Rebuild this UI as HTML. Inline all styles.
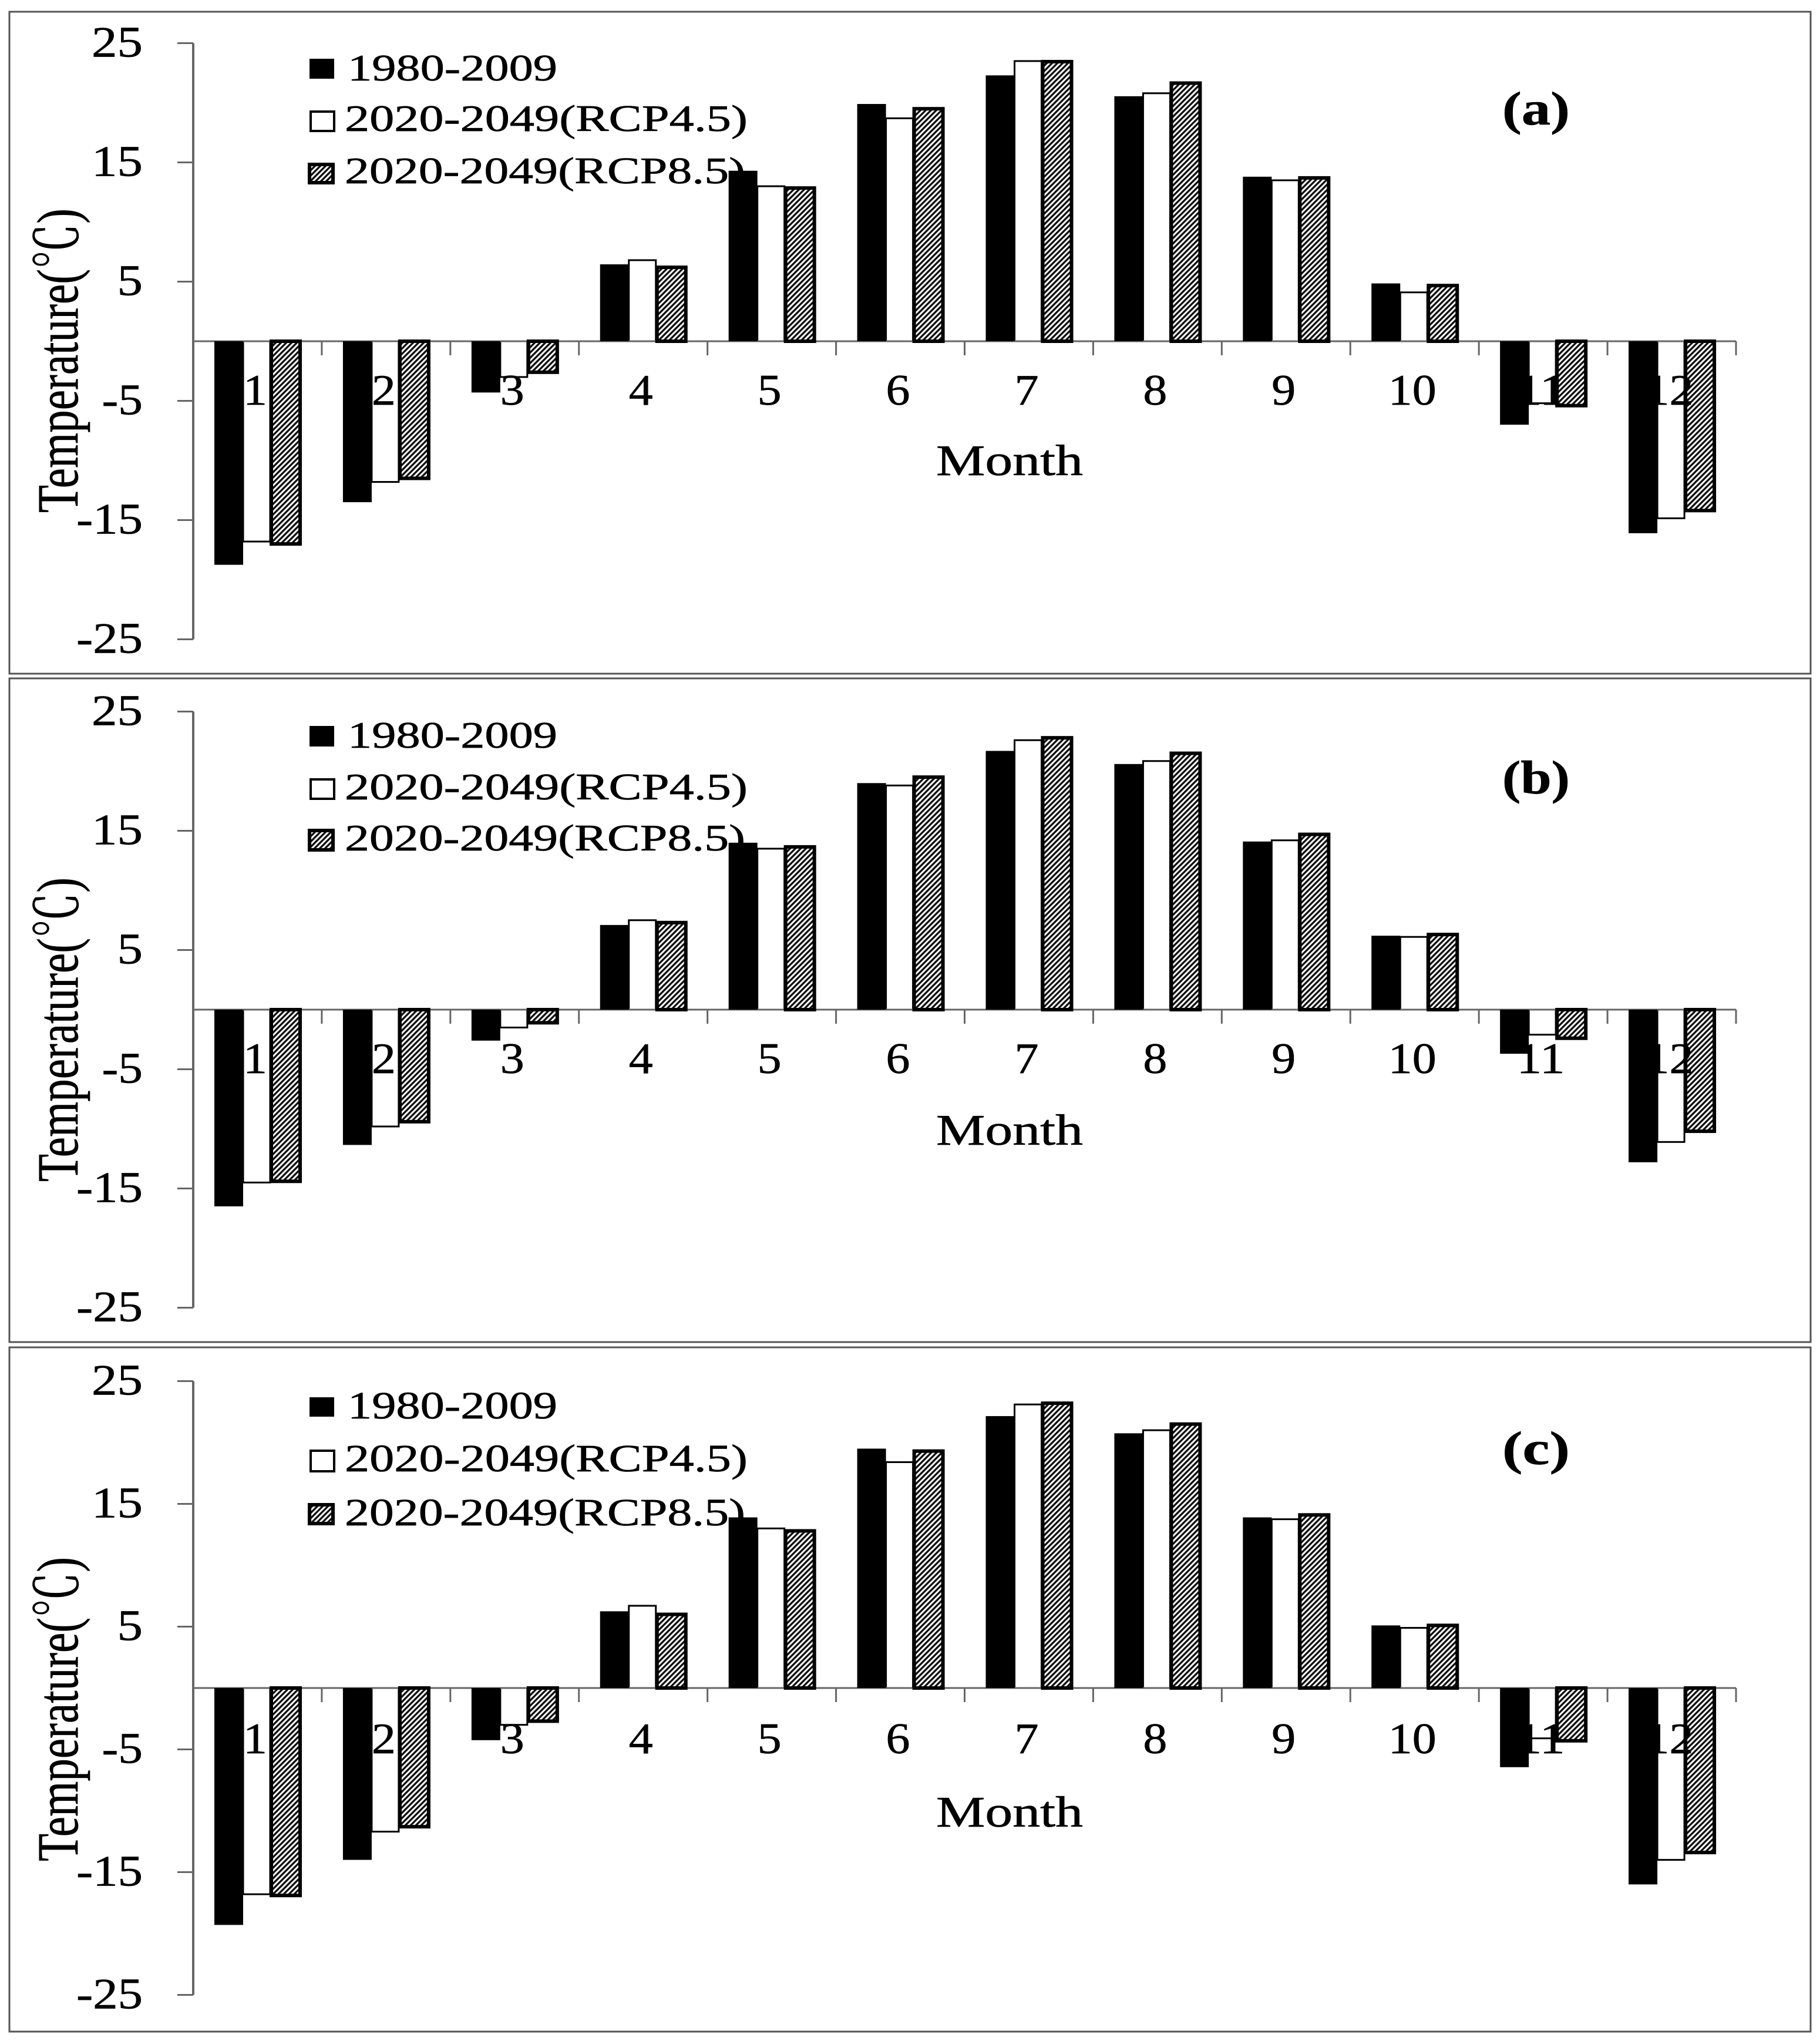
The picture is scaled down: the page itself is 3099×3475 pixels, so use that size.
<!DOCTYPE html>
<html lang="en">
<head>
<meta charset="utf-8">
<title>Monthly temperature panels</title>
<style>
html,body{margin:0;padding:0;background:#fff;}
svg{display:block;}
text{font-family:"Liberation Serif","Noto Serif CJK SC","Noto Sans CJK SC",serif;fill:#000;stroke:#000;stroke-width:0.7;}
</style>
</head>
<body>
<svg id="chart" xmlns="http://www.w3.org/2000/svg" width="3099" height="3475" viewBox="0 0 3099 3475">
  <defs>
    <pattern id="hatch" patternUnits="userSpaceOnUse" width="9" height="9">
      <rect width="9" height="9" fill="#fff"/>
      <path d="M-2 11L11 -2M-2 2L2 -2M7 11L11 7" stroke="#111" stroke-width="3.4"/>
    </pattern>
  </defs>
</svg>
<script>
const months = ["1","2","3","4","5","6","7","8","9","10","11","12"];
const yTicks = [25,15,5,-5,-15,-25];
const legendLabels = ["1980-2009","2020-2049(RCP4.5)","2020-2049(RCP8.5)"];
const xAxisTitle = "Month";
const yAxisTitle = "Temperature(℃)";

const panelAHist = [-18.75,-13.5,-4.3,6.45,14.3,19.9,22.3,20.55,13.8,4.85,-7,-16.1];
const panelARcp45 = [-16.8,-11.8,-3,6.8,13,18.7,23.5,20.8,13.5,4.1,-5.2,-14.85];
const panelARcp85 = [-17,-11.5,-2.6,6.2,12.85,19.5,23.45,21.65,13.7,4.67,-5.4,-14.2];

const panelBHist = [-16.5,-11.35,-2.6,7.1,14,19,21.7,20.6,14.1,6.2,-3.7,-12.8];
const panelBRcp45 = [-14.5,-9.8,-1.5,7.5,13.5,18.8,22.6,20.85,14.2,6.1,-2.1,-11.1];
const panelBRcp85 = [-14.4,-9.4,-1.1,7.3,13.65,19.5,22.8,21.5,14.7,6.3,-2.4,-10.2];

const panelCHist = [-19.3,-14,-4.25,6.25,13.9,19.5,22.15,20.75,13.9,5.1,-6.45,-16];
const panelCRcp45 = [-16.8,-11.7,-3,6.7,13,18.4,23.1,21,13.75,4.9,-4.1,-14];
const panelCRcp85 = [-16.9,-11.3,-2.7,6,12.8,19.3,23.2,21.5,14.1,5.1,-4.3,-13.4];

const NS = "http://www.w3.org/2000/svg";
const svg = document.getElementById("chart");

function make(parent, tag, attrs) {
  const el = document.createElementNS(NS, tag);
  for (const k in attrs) el.setAttribute(k, attrs[k]);
  parent.appendChild(el);
  return el;
}
function label(parent, str, x, y, size, length, extra) {
  const el = make(parent, "text", Object.assign({
    x: x, y: y, "font-size": size, textLength: length, lengthAdjust: "spacingAndGlyphs"
  }, extra || {}));
  el.textContent = str;
  return el;
}
function tickWidth(str) {
  let w = 0;
  for (const c of str) w += c === "-" ? 26 : 43.5;
  return w;
}

function drawPanel(cfg) {
  const g = make(svg, "g", {});
  
  

  const frame = make(g, "rect", {
    x: 16, y: cfg.top, width: 3067, height: cfg.bottom - cfg.top,
    fill: "#fff", stroke: "#555", "stroke-width": 3
  });
  
  

  const axisLeft = 329, axisRight = 2956;
  const band = (axisRight - axisLeft) / months.length;
  const yOf = function (v) { return cfg.zero - v * cfg.unit; };
  const xOf = function (i) { return axisLeft + band * i; };

  /* legend (drawn first: bars overlap it) */
  const mk = cfg.legend;
  legendLabels.forEach(function (t, i) {
    const row = mk[i];
    const swatch = make(g, "rect", {
      x: i === 0 ? 527 : (i === 1 ? 529 : 527),
      y: row.y, width: i === 0 ? 42 : 40, height: row.h,
      fill: i === 0 ? "#000" : (i === 1 ? "#fff" : "url(#hatch)"),
      stroke: "#000", "stroke-width": i === 0 ? 0 : (i === 1 ? 4 : 6)
    });
    
    
    const txt = label(g, t, i === 0 ? 592 : 587, row.base, cfg.legendFont, i === 0 ? 357 : (i === 1 ? 686 : 682));
    
    
  });

  /* y ticks */
  yTicks.forEach(function (v) {
    const tick = make(g, "line", {
      x1: 302, x2: axisLeft, y1: yOf(v), y2: yOf(v), stroke: "#666", "stroke-width": 3
    });
    
    
    const s = String(v);
    const w = tickWidth(s);
    const tl = label(g, s, 243 - w, yOf(v) + 23, 74, w);
    
    
  });

  /* white bars */
  months.forEach(function (m, i) {
    const x = xOf(i) + 36 + 49;
    const y0 = yOf(0), y1 = yOf(cfg.rcp45[i]);
    const bar = make(g, "rect", {
      x: x, y: Math.min(y0, y1), width: 46, height: Math.abs(y1 - y0),
      fill: "#fff", stroke: "#000", "stroke-width": 3
    });
    
    
  });

  /* x axis and ticks, over the white bars */
  const xAxis = make(g, "line", {
    x1: axisLeft, x2: axisRight, y1: yOf(0), y2: yOf(0), stroke: "#666", "stroke-width": 3
  });
  
  
  for (let i = 1; i <= months.length; i++) {
    const xt = make(g, "line", {
      x1: xOf(i), x2: xOf(i), y1: yOf(0), y2: yOf(0) + 24, stroke: "#666", "stroke-width": 3
    });
    
    
  }

  /* black and hatched bars */
  months.forEach(function (m, i) {
    const x = xOf(i) + 36;
    const y0 = yOf(0), y1 = yOf(cfg.hist[i]), y2 = yOf(cfg.rcp85[i]);
    const hist = make(g, "rect", {
      x: x, y: Math.min(y0, y1), width: 49, height: Math.abs(y1 - y0), fill: "#000"
    });
    
    
    const hatch = make(g, "rect", {
      x: x + 97, y: Math.min(y0, y2), width: 49, height: Math.abs(y2 - y0),
      fill: "url(#hatch)", stroke: "#000", "stroke-width": 6
    });
    
    
  });

  /* month labels sit on top of the bars */
  months.forEach(function (m, i) {
    const w = m.length * 41;
    const t = label(g, m, xOf(i) + band / 2 - w / 2 - 4, yOf(0) + cfg.monthOffset, 74, w);
    
    
  });

  /* y axis line */
  const yAxis = make(g, "line", {
    x1: axisLeft, x2: axisLeft, y1: yOf(25), y2: yOf(-25), stroke: "#666", "stroke-width": 4
  });
  
  

  /* titles */
  const xt = label(g, xAxisTitle, 1594, yOf(0) + cfg.titleOffset, 74, 250);
  
  

  const yt = label(g, yAxisTitle, 0, 0, 100, 518, {
    transform: "translate(132," + cfg.yTitleStart + ") rotate(-90)"
  });
  
  

  const tag = label(g, "(" + cfg.id + ")", 2558, cfg.tagBase, 80, 115, { "font-weight": "bold" });
  
  
}

drawPanel({
  id: "a", top: 20, bottom: 1147, zero: 581, unit: 20.3,
  hist: panelAHist, rcp45: panelARcp45, rcp85: panelARcp85,
  legendFont: 64,
  legend: [{ y: 100, h: 34, base: 137 }, { y: 190, h: 33, base: 223 }, { y: 280, h: 31, base: 312 }],
  monthOffset: 108, titleOffset: 228, yTitleStart: 873, tagBase: 212
});
drawPanel({
  id: "b", top: 1155, bottom: 2285, zero: 1719, unit: 20.3,
  hist: panelBHist, rcp45: panelBRcp45, rcp85: panelBRcp85,
  legendFont: 64,
  legend: [{ y: 1236, h: 35, base: 1273 }, { y: 1327, h: 33, base: 1361 }, { y: 1414, h: 33, base: 1448 }],
  monthOffset: 108, titleOffset: 230, yTitleStart: 2012, tagBase: 1351
});
drawPanel({
  id: "c", top: 2294, bottom: 3459, zero: 2874, unit: 20.9,
  hist: panelCHist, rcp45: panelCRcp45, rcp85: panelCRcp85,
  legendFont: 66,
  legend: [{ y: 2379, h: 33, base: 2415 }, { y: 2470, h: 35, base: 2505 }, { y: 2562, h: 32, base: 2597 }],
  monthOffset: 111, titleOffset: 236, yTitleStart: 3169, tagBase: 2493
});
</script>
</body>
</html>
